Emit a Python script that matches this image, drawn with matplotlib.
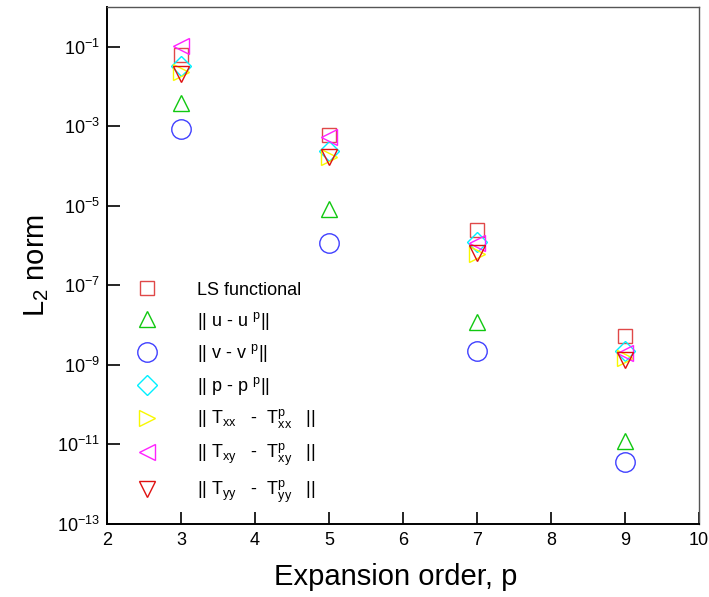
import numpy as np
import matplotlib
matplotlib.use("Agg")
import matplotlib.pyplot as plt

plt.rcParams['font.family'] = ['Liberation Sans', 'DejaVu Sans']
plt.rcParams['mathtext.fontset'] = 'custom'
plt.rcParams['mathtext.rm'] = 'Liberation Sans'
plt.rcParams['mathtext.it'] = 'Liberation Sans'
plt.rcParams['mathtext.bf'] = 'Liberation Sans'
plt.rcParams['axes.unicode_minus'] = False

# expansion orders
orders = [3, 5, 7, 9]

# L2 norms (log10 values)
ls_functional = [-1.20, -3.22, -5.61, -8.28]
err_u = [-2.41, -5.08, -7.93, -10.92]
err_v = [-3.07, -5.94, -8.66, -11.45]
err_p = [-1.48, -3.62, -5.91, -8.66]
err_txx = [-1.63, -3.77, -6.21, -8.83]
err_txy = [-0.97, -3.27, -5.94, -8.71]
err_tyy = [-1.68, -3.77, -6.19, -8.88]

labels = [
    'LS functional',
    r'|| u - u $^{\rm p}$||',
    r'|| v - v $^{\rm p}$||',
    r'|| p - p $^{\rm p}$||',
    r'|| T$_{\rm xx}$   -  T$_{\rm xx}^{\rm p}$   ||',
    r'|| T$_{\rm xy}$   -  T$_{\rm xy}^{\rm p}$   ||',
    r'|| T$_{\rm yy}$   -  T$_{\rm yy}^{\rm p}$   ||',
]
series = [ls_functional, err_u, err_v, err_p, err_txx, err_txy, err_tyy]
markers = ['s', '^', 'o', 'D', '>', '<', 'v']
sizes = [10, 11, 14, 10, 11, 11, 11]
colors = ['#e04848', '#10c810', '#4040ff', '#00f0ff', '#f8f800', '#ff20ff', '#e01010']

fig = plt.figure(figsize=(7.09, 5.97), dpi=100)
ax = fig.add_axes([0.1509, 0.1223, 0.835, 0.866])

for vals, lab, m, ms, c in zip(series, labels, markers, sizes, colors):
    ax.plot(orders, 10.0 ** np.array(vals), linestyle='none', marker=m,
            markersize=ms, markerfacecolor='none', markeredgecolor=c,
            markeredgewidth=1.0, label=lab)

ax.set_yscale('log')
ax.set_xlim(2, 10)
ax.set_ylim(1e-13, 1e0)
ax.set_xticks(range(2, 11))
ax.set_yticks([10.0 ** k for k in range(-13, 0, 2)])
ax.minorticks_off()
ax.tick_params(axis='both', direction='in', length=9, width=1.2,
               labelsize=13, top=False, right=False)
ax.tick_params(axis='y', pad=5)
ax.tick_params(axis='x', pad=6)

for s in ['left', 'bottom']:
    ax.spines[s].set_linewidth(1.4)
    ax.spines[s].set_color('black')
for s in ['top', 'right']:
    ax.spines[s].set_linewidth(1.0)
    ax.spines[s].set_color('#555555')

ax.set_xlabel('Expansion order, p', fontsize=21, labelpad=13)
ax.xaxis.set_label_coords(0.487, -0.075, transform=ax.transAxes)
ax.xaxis.label.set_verticalalignment('top')
ax.set_ylabel(r'L$_{\rm 2}$ norm', fontsize=21, labelpad=4)

ax.legend(loc='upper left', bbox_to_anchor=(0.018, 0.50), frameon=False,
          fontsize=13, handletextpad=2.0, labelspacing=0.6,
          borderaxespad=0.5, handlelength=1.5)

fig.savefig('out.png', dpi=100)
